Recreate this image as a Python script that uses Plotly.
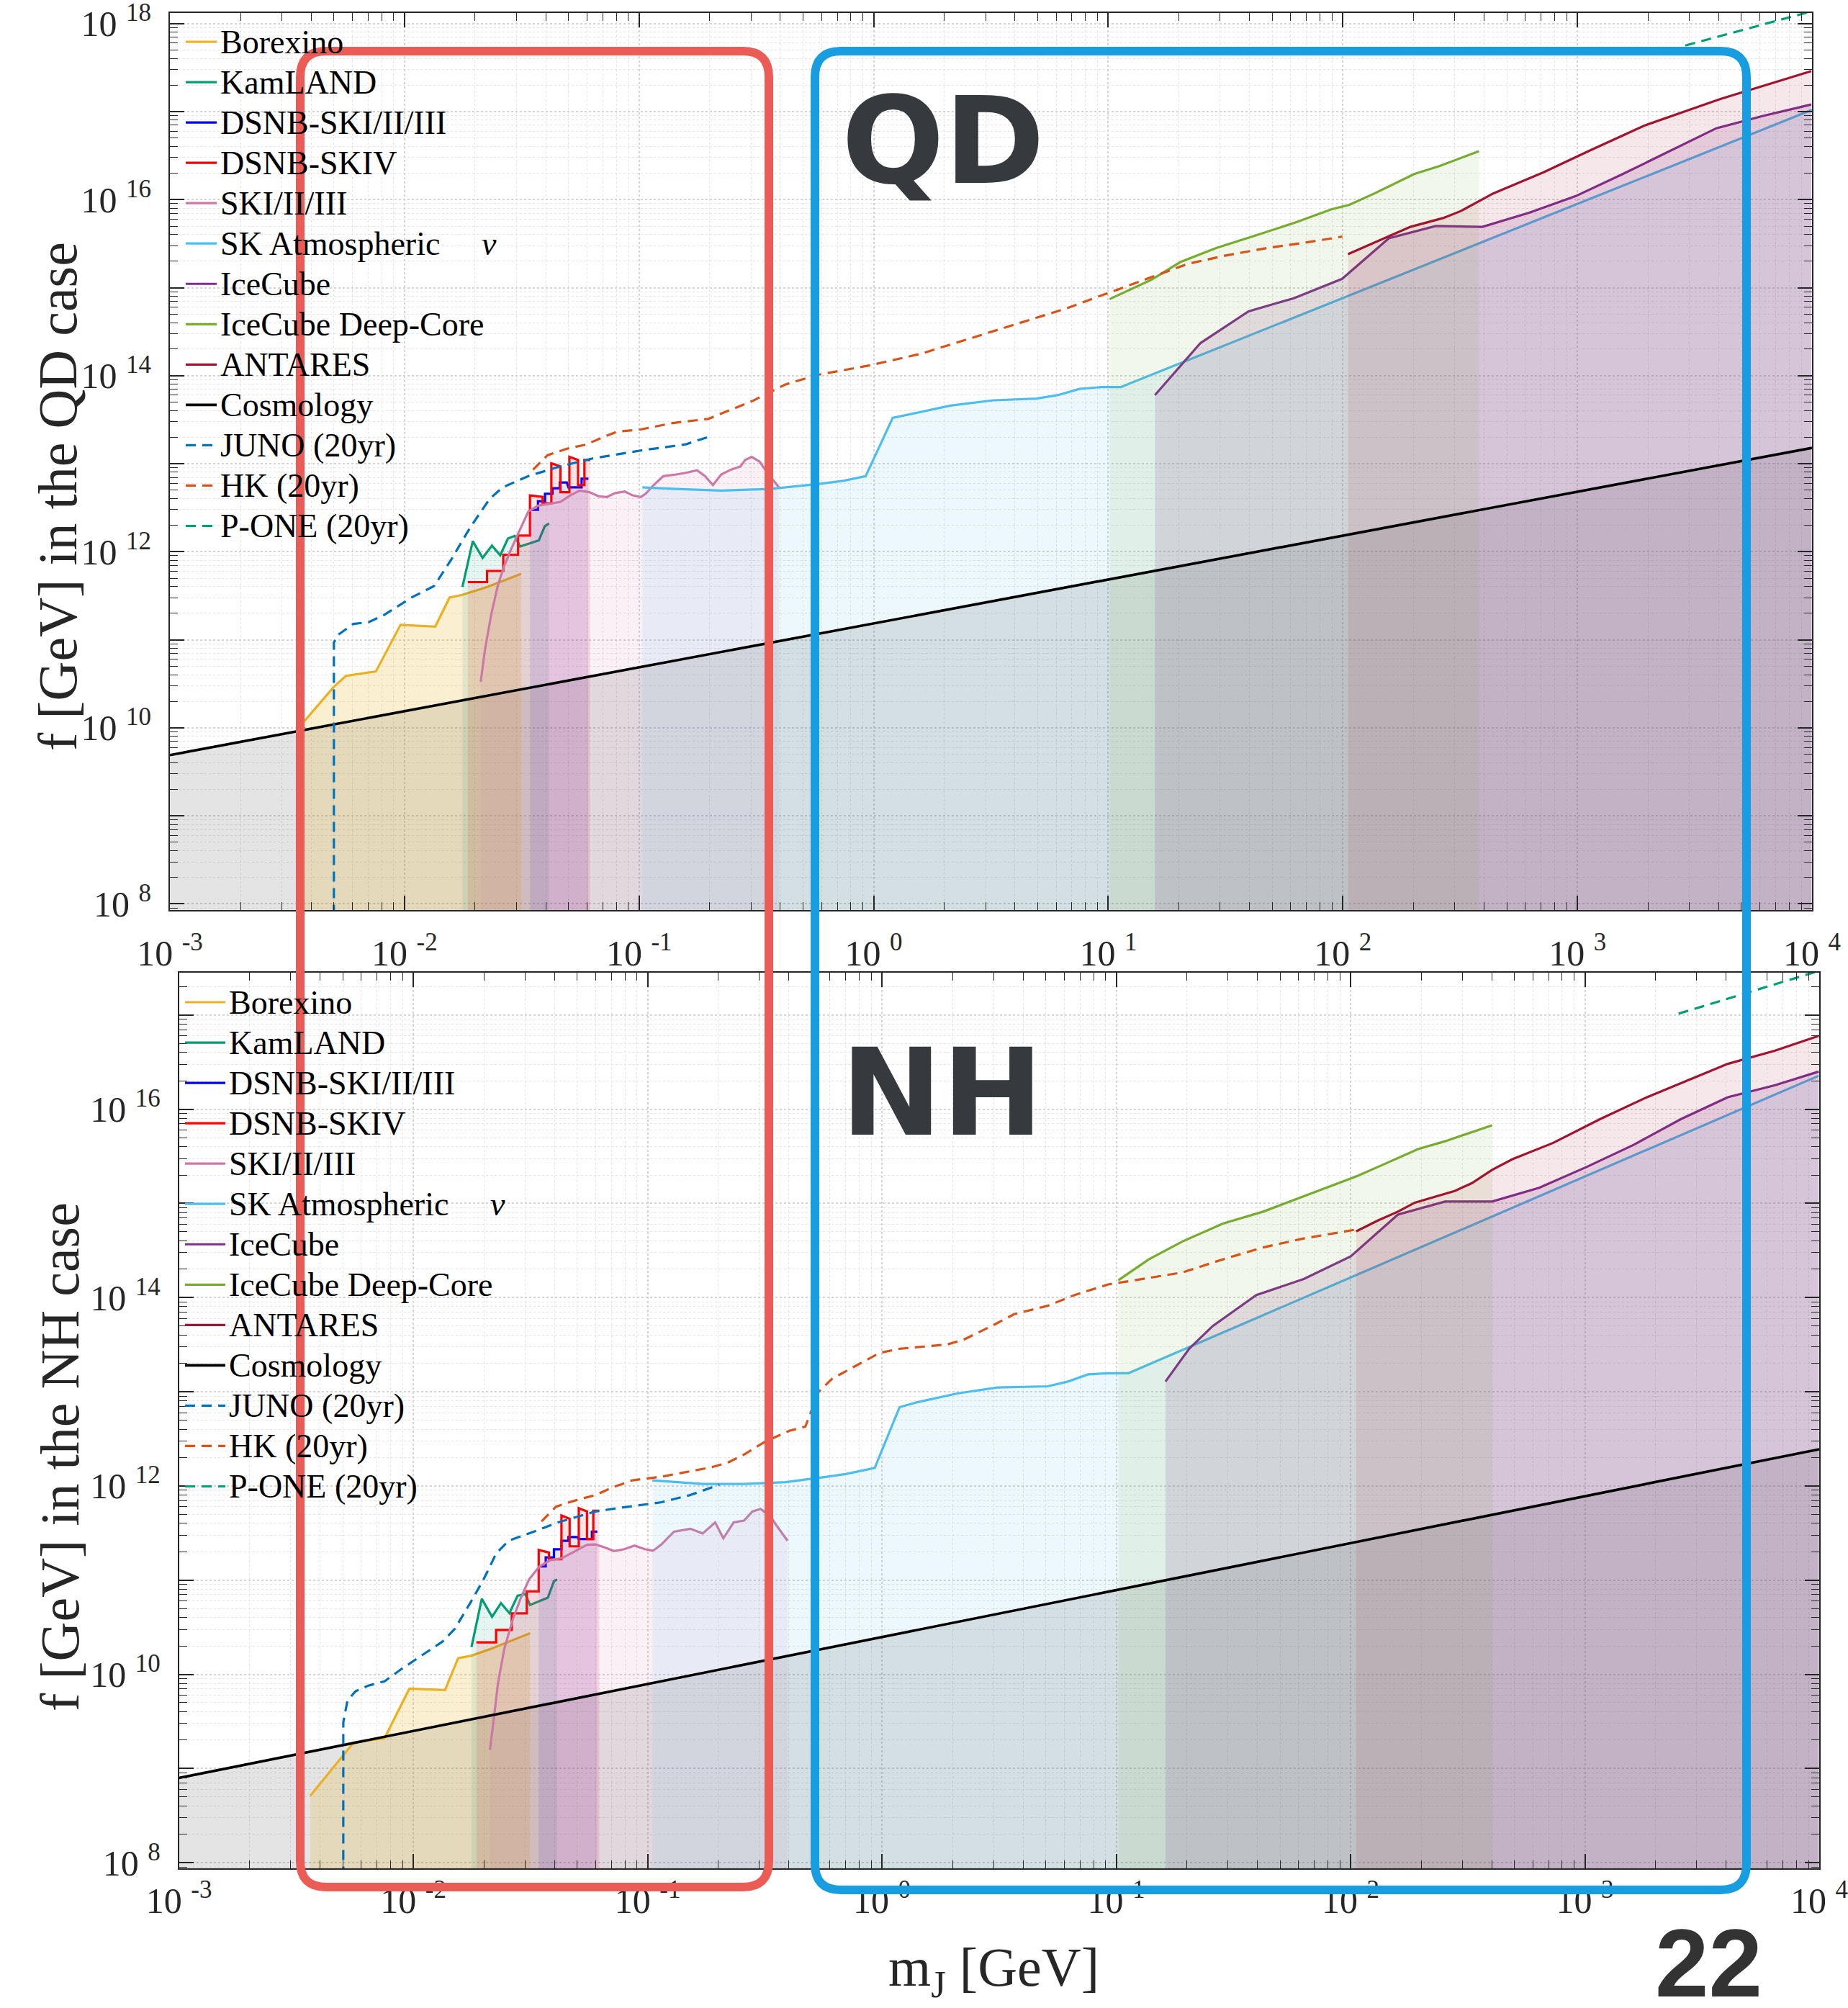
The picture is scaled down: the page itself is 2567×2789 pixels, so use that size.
import numpy as np
import plotly.graph_objects as go

W, H = 2567, 2789

# ---------------- data (log10 m_J [GeV], log10 f [GeV]) ----------------
# ----- QD case (top panel) -----
borexino_qd_logm = [-2.445, -2.303, -2.250, -2.122, -2.017, -1.869, -1.808, -1.754, -1.647, -1.503]
borexino_qd_logf = [10.02, 10.46, 10.59, 10.64, 11.17, 11.15, 11.48, 11.51, 11.60, 11.75]

kamland_qd_logm = [-1.753, -1.709, -1.667, -1.627, -1.592, -1.559, -1.530, -1.507, -1.427, -1.402, -1.384]
kamland_qd_logf = [11.60, 12.12, 11.93, 12.07, 11.96, 12.15, 12.18, 12.06, 12.13, 12.29, 12.32]

dsnb123_qd_logm = [-1.465, -1.431, -1.431, -1.401, -1.401, -1.369, -1.369, -1.338, -1.338, -1.308, -1.301, -1.245, -1.245, -1.216]
dsnb123_qd_logf = [12.476, 12.476, 12.574, 12.574, 12.659, 12.659, 12.721, 12.721, 12.786, 12.786, 12.732, 12.732, 12.830, 12.830]

dsnb4_qd_logm = [-1.730, -1.648, -1.648, -1.579, -1.579, -1.516, -1.516, -1.465, -1.465, -1.411, -1.411,
                 -1.374, -1.374, -1.335, -1.335, -1.297, -1.297, -1.260, -1.260, -1.233, -1.233, -1.208]
dsnb4_qd_logf = [11.655, 11.655, 11.782, 11.782, 11.965, 11.965, 12.184, 12.184, 12.640, 12.622, 12.549,
                 12.549, 13.005, 12.969, 12.677, 12.677, 13.078, 13.042, 12.757, 12.757, 13.042, 13.042]

ski_qd_logm = [-1.675, -1.657, -1.630, -1.602, -1.575, -1.547, -1.513, -1.472, -1.431, -1.374, -1.335, -1.294,
               -1.253, -1.212, -1.171, -1.137, -1.102, -1.061, -1.027, -0.993, -0.972, -0.938, -0.897, -0.842,
               -0.801, -0.753, -0.719, -0.685, -0.650, -0.609, -0.568, -0.548, -0.520, -0.486, -0.458, -0.431, -0.404]
ski_qd_logf = [10.523, 10.888, 11.290, 11.618, 11.837, 12.020, 12.220, 12.458, 12.523, 12.549, 12.567, 12.640,
               12.695, 12.677, 12.629, 12.622, 12.666, 12.684, 12.640, 12.622, 12.659, 12.757, 12.859, 12.878,
               12.896, 12.925, 12.859, 12.757, 12.878, 12.932, 12.969, 13.042, 13.078, 13.024, 12.914, 12.823, 12.732]

skatm_qd_logm = [-0.986, -0.842, -0.650, -0.445, -0.239, -0.130, -0.034, 0.081, 0.326, 0.510, 0.694, 0.786,
                 0.878, 0.971, 1.053, 4.0]
skatm_qd_logf = [12.732, 12.713, 12.695, 12.713, 12.768, 12.805, 12.859, 13.52, 13.66, 13.72, 13.74, 13.78,
                 13.85, 13.87, 13.87, 17.02]

icecube_qd_logm = [1.199, 1.393, 1.598, 1.791, 1.997, 2.196, 2.396, 2.595, 2.794, 2.993, 3.193, 3.392, 3.592, 3.791, 3.997]
icecube_qd_logf = [13.78, 14.37, 14.73, 14.88, 15.10, 15.56, 15.70, 15.69, 15.85, 16.04, 16.29, 16.55, 16.81, 16.95, 17.08]

deepcore_qd_logm = [1.006, 1.184, 1.307, 1.460, 1.614, 1.798, 1.951, 2.028, 2.135, 2.304, 2.411, 2.580]
deepcore_qd_logf = [14.87, 15.09, 15.29, 15.45, 15.58, 15.74, 15.89, 15.94, 16.07, 16.29, 16.38, 16.55]

antares_qd_logm = [2.022, 2.196, 2.288, 2.427, 2.503, 2.641, 2.856, 3.055, 3.285, 3.607, 3.997]
antares_qd_logf = [15.38, 15.58, 15.69, 15.79, 15.87, 16.07, 16.31, 16.56, 16.84, 17.14, 17.46]

cosmo_qd_logm = [-3.0, 4.0]
cosmo_qd_logf = [9.69, 13.18]

juno_qd_logm = [-2.301, -2.301, -2.281, -2.218, -2.153, -2.088, -1.970, -1.874, -1.801, -1.719, -1.637,
                -1.582, -1.472, -1.335, -1.198, -0.993, -0.801, -0.698]
juno_qd_logf = [7.5, 10.97, 11.06, 11.18, 11.20, 11.28, 11.48, 11.61, 11.91, 12.28, 12.60,
                12.73, 12.86, 12.97, 13.06, 13.15, 13.22, 13.31]

hk_qd_logm = [-1.452, -1.390, -1.308, -1.226, -1.157, -1.095, -0.993, -0.856, -0.705, -0.595, -0.513, -0.431,
              -0.376, -0.239, -0.011, 0.203, 0.418, 0.633, 0.817, 1.001, 1.185, 1.339, 1.492, 1.676, 1.860, 1.998]
hk_qd_logf = [12.932, 13.097, 13.170, 13.217, 13.297, 13.363, 13.389, 13.462, 13.509, 13.626, 13.717, 13.827,
              13.900, 14.009, 14.12, 14.25, 14.43, 14.61, 14.76, 14.94, 15.12, 15.27, 15.36, 15.45, 15.52, 15.58]

pone_qd_logm = [3.46, 4.0]
pone_qd_logf = [17.75, 18.14]

# ----- NH case (bottom panel) -----
borexino_nh_logm = [-2.440, -2.255, -2.123, -2.017, -1.865, -1.809, -1.752, -1.664, -1.502]
borexino_nh_logf = [8.711, 9.276, 9.322, 9.848, 9.833, 10.171, 10.198, 10.276, 10.436]

kamland_nh_logm = [-1.752, -1.708, -1.664, -1.626, -1.590, -1.555, -1.523, -1.502, -1.426, -1.400, -1.386]
kamland_nh_logf = [10.289, 10.802, 10.611, 10.756, 10.650, 10.834, 10.853, 10.736, 10.814, 10.989, 11.009]

dsnb123_nh_logm = [-1.465, -1.435, -1.435, -1.400, -1.400, -1.368, -1.368, -1.338, -1.338, -1.300, -1.294, -1.238, -1.238, -1.215]
dsnb123_nh_logf = [11.145, 11.145, 11.242, 11.242, 11.328, 11.328, 11.418, 11.418, 11.457, 11.457, 11.437, 11.437, 11.515, 11.515]

dsnb4_nh_logm = [-1.731, -1.647, -1.647, -1.580, -1.580, -1.516, -1.516, -1.465, -1.465, -1.421, -1.421,
                 -1.368, -1.368, -1.333, -1.333, -1.294, -1.294, -1.259, -1.259, -1.232, -1.232, -1.206]
dsnb4_nh_logf = [10.339, 10.339, 10.471, 10.471, 10.647, 10.647, 10.880, 10.880, 11.320, 11.293, 11.223,
                 11.223, 11.686, 11.651, 11.359, 11.359, 11.764, 11.729, 11.437, 11.437, 11.737, 11.737]

ski_nh_logm = [-1.673, -1.656, -1.638, -1.612, -1.576, -1.541, -1.506, -1.462, -1.417, -1.364, -1.312, -1.259,
               -1.223, -1.188, -1.144, -1.100, -1.056, -1.012, -0.977, -0.941, -0.888, -0.818, -0.765, -0.712,
               -0.677, -0.633, -0.589, -0.553, -0.518, -0.474, -0.448, -0.403]
ski_nh_logf = [9.198, 9.568, 9.918, 10.269, 10.580, 10.814, 11.009, 11.145, 11.211, 11.235, 11.301, 11.375,
               11.379, 11.351, 11.309, 11.328, 11.367, 11.328, 11.312, 11.379, 11.515, 11.546, 11.496, 11.613,
               11.445, 11.613, 11.632, 11.729, 11.757, 11.671, 11.573, 11.418]

skatm_nh_logm = [-0.980, -0.765, -0.589, -0.412, -0.241, -0.155, -0.031, 0.075, 0.147, 0.320, 0.492, 0.707,
                 0.794, 0.880, 0.966, 1.052, 3.998]
skatm_nh_logf = [12.060, 12.021, 12.021, 12.041, 12.096, 12.127, 12.191, 12.836, 12.887, 12.982, 13.045, 13.058,
                 13.109, 13.185, 13.197, 13.197, 16.356]

icecube_nh_logm = [1.210, 1.311, 1.411, 1.598, 1.800, 2.001, 2.202, 2.403, 2.604, 2.805, 3.007, 3.208, 3.409, 3.610, 3.812, 3.998]
icecube_nh_logf = [13.109, 13.457, 13.697, 14.027, 14.197, 14.438, 14.881, 15.020, 15.020, 15.166, 15.387, 15.622,
                   15.894, 16.128, 16.255, 16.400]

deepcore_nh_logm = [1.009, 1.139, 1.282, 1.455, 1.627, 1.828, 2.030, 2.116, 2.288, 2.403, 2.604]
deepcore_nh_logf = [14.185, 14.406, 14.596, 14.786, 14.913, 15.102, 15.292, 15.387, 15.577, 15.660, 15.830]

antares_nh_logm = [2.024, 2.116, 2.202, 2.274, 2.446, 2.518, 2.604, 2.691, 2.863, 3.064, 3.265, 3.438, 3.610, 3.812, 3.998]
antares_nh_logf = [14.704, 14.818, 14.913, 15.008, 15.134, 15.216, 15.356, 15.470, 15.641, 15.894, 16.128, 16.305,
                   16.482, 16.622, 16.780]

cosmo_nh_logm = [-3.0, 4.0]
cosmo_nh_logf = [8.90, 12.39]

juno_nh_logm = [-2.299, -2.299, -2.281, -2.246, -2.193, -2.123, -2.052, -1.946, -1.876, -1.823, -1.753, -1.700,
                -1.647, -1.594, -1.506, -1.382, -1.224, -1.118, -0.941, -0.818, -0.694]
juno_nh_logf = [7.5, 9.490, 9.724, 9.821, 9.879, 9.926, 10.054, 10.230, 10.347, 10.483, 10.775, 11.009,
                11.281, 11.418, 11.496, 11.613, 11.729, 11.768, 11.827, 11.904, 12.013]

hk_nh_logm = [-1.453, -1.391, -1.320, -1.223, -1.153, -1.065, -0.941, -0.730, -0.659, -0.589, -0.500, -0.395,
              -0.327, -0.270, -0.212, -0.097, -0.011, 0.075, 0.276, 0.348, 0.477, 0.564, 0.707, 0.822, 0.966,
              1.081, 1.282, 1.455, 1.627, 1.800, 1.915, 2.024]
hk_nh_logf = [11.624, 11.780, 11.838, 11.904, 11.982, 12.060, 12.099, 12.197, 12.247, 12.333, 12.469, 12.586,
              12.630, 13.000, 13.140, 13.299, 13.412, 13.457, 13.501, 13.552, 13.710, 13.824, 13.913, 14.027,
              14.140, 14.185, 14.267, 14.406, 14.533, 14.628, 14.678, 14.723]

pone_nh_logm = [3.40, 4.0]
pone_nh_logf = [17.015, 17.47]

# tick labels
x_exponents = [-3, -2, -1, 0, 1, 2, 3, 4]
y_exponents_qd = [8, 10, 12, 14, 16, 18]
y_exponents_nh = [8, 10, 12, 14, 16]

# ---------------- styling ----------------
C = dict(borexino="#EDB120", kamland="#009E73", dsnb123="#0000FF", dsnb4="#FF0000", ski="#CC79A7",
         skatm="#4DBEEE", icecube="#7E2F8E", deepcore="#77AC30", antares="#A2142F", cosmo="#000000",
         juno="#0072BD", hk="#D95319", pone="#009E73")
FLOOR = 1e6
SERIF = "Liberation Serif, Times New Roman, serif"
AXC = "#262626"
LEG_TXT = 46


def rgba(hexc, a):
    hexc = hexc.lstrip('#')
    r, g, b = int(hexc[0:2], 16), int(hexc[2:4], 16), int(hexc[4:6], 16)
    return f"rgba({r},{g},{b},{a})"


def lname(s):
    return f'<span style="font-size:{LEG_TXT}px">{s}</span>'


fig = go.Figure()


def axes_of(panel):
    return ("x", "y", "legend") if panel == 1 else ("x2", "y2", "legend2")


def add_fill(panel, logm, logf, color, alpha):
    xa, ya, _ = axes_of(panel)
    m = 10.0 ** np.asarray(logm)
    f = 10.0 ** np.asarray(logf)
    fx = np.concatenate([m, [m[-1], m[0]]])
    fy = np.concatenate([f, [FLOOR, FLOOR]])
    fig.add_trace(go.Scatter(x=fx, y=fy, mode="lines", fill="toself", fillcolor=rgba(color, alpha),
                             line=dict(width=0), hoverinfo="skip", showlegend=False, xaxis=xa, yaxis=ya))


def add_line(panel, name, logm, logf, color, width=3.2, dash=None):
    xa, ya, leg = axes_of(panel)
    m = 10.0 ** np.asarray(logm)
    f = 10.0 ** np.asarray(logf)
    fig.add_trace(go.Scatter(x=m, y=f, mode="lines", name=lname(name),
                             line=dict(color=color, width=width, dash=dash),
                             xaxis=xa, yaxis=ya, legend=leg))


SKNAME = "SK Atmospheric\u00a0\u00a0\u00a0\u00a0\u00a0<i>ν</i>"
DASH = "14px,9px"

panels = {
    1: dict(borexino=(borexino_qd_logm, borexino_qd_logf), kamland=(kamland_qd_logm, kamland_qd_logf),
            dsnb123=(dsnb123_qd_logm, dsnb123_qd_logf), dsnb4=(dsnb4_qd_logm, dsnb4_qd_logf),
            ski=(ski_qd_logm, ski_qd_logf), skatm=(skatm_qd_logm, skatm_qd_logf),
            icecube=(icecube_qd_logm, icecube_qd_logf), deepcore=(deepcore_qd_logm, deepcore_qd_logf),
            antares=(antares_qd_logm, antares_qd_logf), cosmo=(cosmo_qd_logm, cosmo_qd_logf),
            juno=(juno_qd_logm, juno_qd_logf), hk=(hk_qd_logm, hk_qd_logf), pone=(pone_qd_logm, pone_qd_logf)),
    2: dict(borexino=(borexino_nh_logm, borexino_nh_logf), kamland=(kamland_nh_logm, kamland_nh_logf),
            dsnb123=(dsnb123_nh_logm, dsnb123_nh_logf), dsnb4=(dsnb4_nh_logm, dsnb4_nh_logf),
            ski=(ski_nh_logm, ski_nh_logf), skatm=(skatm_nh_logm, skatm_nh_logf),
            icecube=(icecube_nh_logm, icecube_nh_logf), deepcore=(deepcore_nh_logm, deepcore_nh_logf),
            antares=(antares_nh_logm, antares_nh_logf), cosmo=(cosmo_nh_logm, cosmo_nh_logf),
            juno=(juno_nh_logm, juno_nh_logf), hk=(hk_nh_logm, hk_nh_logf), pone=(pone_nh_logm, pone_nh_logf)),
}

filled = [("borexino", "Borexino", 0.2), ("kamland", "KamLAND", 0.1), ("dsnb123", "DSNB-SKI/II/III", 0.1),
          ("dsnb4", "DSNB-SKIV", 0.1), ("ski", "SKI/II/III", 0.1), ("skatm", SKNAME, 0.1),
          ("icecube", "IceCube", 0.15), ("deepcore", "IceCube Deep-Core", 0.1), ("antares", "ANTARES", 0.1)]

for p in (1, 2):
    d = panels[p]
    add_fill(p, *d["cosmo"], C["cosmo"], 0.105)
    for key, name, a in filled:
        add_line(p, name, *d[key], C[key])
        add_fill(p, *d[key], C[key], a)
    add_line(p, "Cosmology", *d["cosmo"], C["cosmo"], width=3.6)
    add_line(p, "JUNO (20yr)", *d["juno"], C["juno"], dash=DASH)
    add_line(p, "HK (20yr)", *d["hk"], C["hk"], dash=DASH)
    add_line(p, "P-ONE (20yr)", *d["pone"], C["pone"], dash=DASH)


def tick_text(e):
    return f"10\u00a0<sup>{e}</sup>"


def make_axis(domain, rng, exps_all, exps_lab, minor_range, standoff):
    tv = [10.0 ** e for e in exps_all]
    tt = [tick_text(e) if e in exps_lab else "" for e in exps_all]
    mv = [d * 10.0 ** k for k in minor_range for d in range(2, 10)]
    return dict(type="log", domain=domain, range=rng, automargin=False, showline=True, linecolor=AXC, linewidth=2,
                mirror="ticks", ticks="inside", ticklen=20, tickwidth=1.5, tickcolor=AXC,
                tickmode="array", tickvals=tv, ticktext=tt, ticklabelstandoff=standoff,
                ticklabeloverflow="allow",
                tickfont=dict(family=SERIF, size=50, color=AXC),
                showgrid=True, gridcolor="#d4d4d4", gridwidth=1.5, griddash="dot", zeroline=False,
                minor=dict(tickmode="array", tickvals=mv, ticks="inside", ticklen=11, tickwidth=1.2,
                           tickcolor=AXC, showgrid=True, gridcolor="#e4e4e4", gridwidth=1.2, griddash="dot"))


xr = list(range(-3, 5))
fig.update_layout(
    xaxis=dict(make_axis([236 / W, 2517 / W], [-3, 4], xr, x_exponents, range(-3, 4), 15), anchor="y"),
    yaxis=dict(make_axis([1 - 1264 / H, 1 - 18 / H], [7.93, 18.12], list(range(8, 19)), y_exponents_qd,
                         range(7, 19), 14), anchor="x"),
    xaxis2=dict(make_axis([248.7 / W, 2527 / W], [-3, 4], xr, x_exponents, range(-3, 4), 0), anchor="y2"),
    yaxis2=dict(make_axis([1 - 2595 / H, 1 - 1351 / H], [7.94, 17.45], list(range(8, 18)), y_exponents_nh,
                          range(7, 18), 14), anchor="x2"),
)

legend_style = dict(xanchor="left", yanchor="top", bgcolor="rgba(0,0,0,0)", borderwidth=0,
                    font=dict(family=SERIF, size=40.8, color="black"), tracegroupgap=0)
fig.update_layout(
    legend=dict(legend_style, x=253 / W, y=1 - 25 / H, itemwidth=43),
    legend2=dict(legend_style, x=252 / W, y=1 - 1359 / H, itemwidth=56),
)


# hand-drawn highlight boxes
def rrect(x0, y0, x1, y1, r):
    X = lambda p: p / W
    Y = lambda p: 1 - p / H
    return (f"M {X(x0 + r)},{Y(y0)} L {X(x1 - r)},{Y(y0)} Q {X(x1)},{Y(y0)} {X(x1)},{Y(y0 + r)} "
            f"L {X(x1)},{Y(y1 - r)} Q {X(x1)},{Y(y1)} {X(x1 - r)},{Y(y1)} "
            f"L {X(x0 + r)},{Y(y1)} Q {X(x0)},{Y(y1)} {X(x0)},{Y(y1 - r)} "
            f"L {X(x0)},{Y(y0 + r)} Q {X(x0)},{Y(y0)} {X(x0 + r)},{Y(y0)} Z")


fig.update_layout(shapes=[
    dict(type="path", xref="paper", yref="paper", path=rrect(417, 71, 1068, 2621, 36),
         line=dict(color="rgb(236,92,86)", width=12), layer="above"),
    dict(type="path", xref="paper", yref="paper", path=rrect(1132, 71, 2426, 2625, 36),
         line=dict(color="rgb(24,157,224)", width=12), layer="above"),
])

ann = [
    dict(text="QD", x=1310 / W, y=1 - 196 / H, font=dict(family="DejaVu Sans", size=168, color="#36393d", weight="bold")),
    dict(text="NH", x=1308 / W, y=1 - 1518 / H, font=dict(family="DejaVu Sans", size=168, color="#36393d", weight="bold")),
    dict(text="22", x=2373 / W, y=1 - 2726 / H, font=dict(family="Liberation Sans Narrow, Liberation Sans", size=134, color="#333333", weight="bold")),
    dict(text="f [GeV] in the QD case", x=80 / W, y=1 - 690 / H, textangle=-90, font=dict(family=SERIF, size=76, color=AXC)),
    dict(text="f [GeV] in the NH case", x=83 / W, y=1 - 2024 / H, textangle=-90, font=dict(family=SERIF, size=76, color=AXC)),
    dict(text="m<sub>J</sub> [GeV]", x=1380 / W, y=1 - 2738 / H, font=dict(family=SERIF, size=76, color=AXC)),
]
for a in ann:
    a.update(xref="paper", yref="paper", showarrow=False, xanchor="center", yanchor="middle")
fig.update_layout(annotations=ann)

fig.update_layout(width=W, height=H, autosize=False, margin=dict(l=0, r=0, t=0, b=0, autoexpand=False),
                  paper_bgcolor="white", plot_bgcolor="white", showlegend=True, hovermode=False)

fig.write_html("out.html", config={"displayModeBar": False})
